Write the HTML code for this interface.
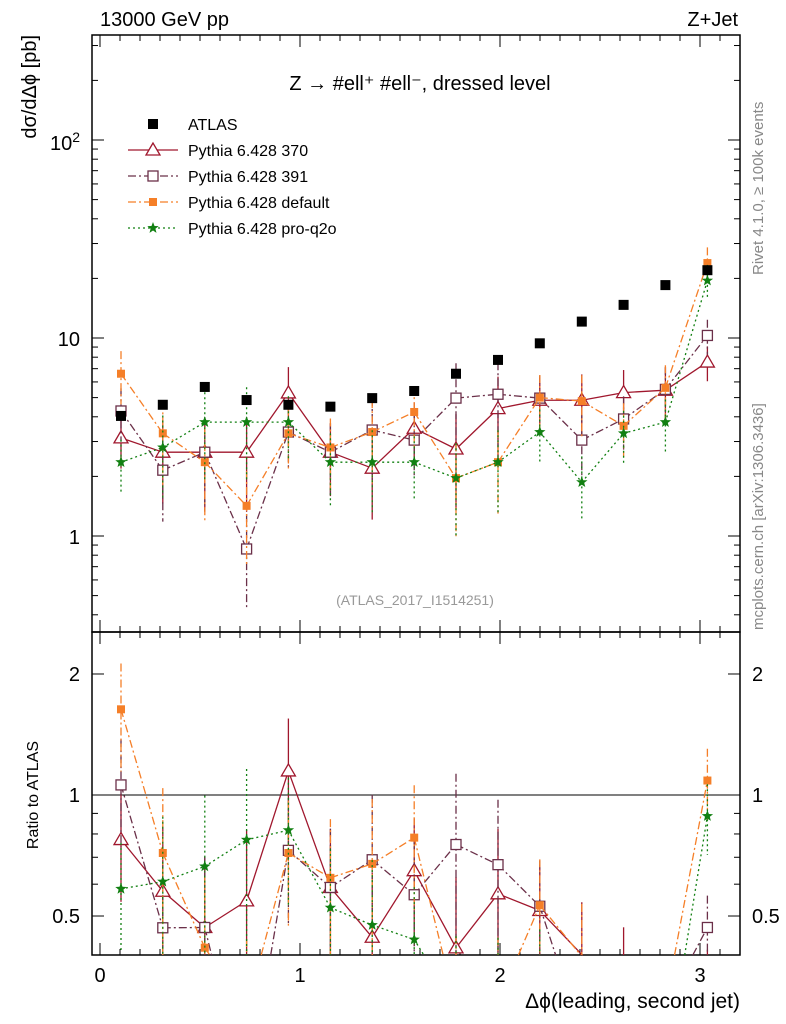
<!DOCTYPE html>
<html><head><meta charset="utf-8"><style>
html,body{margin:0;padding:0;background:#fff;width:786px;height:1024px;overflow:hidden;}
svg{display:block;font-family:"Liberation Sans",sans-serif;overflow:hidden;}
</style></head><body>
<svg id="chart" width="786" height="1024" xmlns="http://www.w3.org/2000/svg"></svg>
<script>
const xCenters=[0.105,0.314,0.524,0.733,0.942,1.152,1.361,1.571,1.780,1.990,2.199,2.409,2.618,2.827,3.037];
const atlasVals=[4.04,4.6,5.66,4.86,4.6,4.5,4.97,5.4,6.6,7.75,9.4,12.1,14.7,18.5,22];
const p370Vals=[3.13,2.65,2.65,2.65,5.28,2.65,2.2,3.5,2.75,4.4,4.85,4.85,5.3,5.45,7.56];
const p391Vals=[4.28,2.15,2.65,0.86,3.35,2.65,3.43,3.05,4.97,5.2,4.97,3.05,3.9,5.5,10.3];
const pDefVals=[6.6,3.3,2.36,1.42,3.3,2.8,3.35,4.23,1.96,2.36,5.0,4.8,3.6,5.6,23.9];
const pQ2oVals=[2.36,2.8,3.76,3.76,3.76,2.36,2.36,2.36,1.96,2.36,3.35,1.87,3.3,3.76,19.5];
const relErr=[0.3,0.45,0.5,0.5,0.35,0.4,0.45,0.35,0.5,0.45,0.3,0.35,0.3,0.3,0.2];
const xTicks=[0,1,2,3];
const NS="http://www.w3.org/2000/svg";
const svg=document.getElementById('chart');
const L=92,R=740,T1=35,B1=632,T2=632,B2=955;
const X=v=>100+200*v;
const Y1=v=>536-198*Math.log10(v);
const Y2=v=>795-402*Math.log10(v);
const clampY=(y,t,b)=>Math.min(b,Math.max(t,y));
function el(t,a,p){const e=document.createElementNS(NS,t);for(const k in a)e.setAttribute(k,a[k]);(p||svg).appendChild(e);return e;}
function txt(s,x,y,size,anchor,fill,p){const e=el('text',{x:x,y:y,'font-size':size,'text-anchor':anchor||'start',fill:fill||'#000'},p);e.textContent=s;return e;}
function seg(x1,y1,x2,y2,t,b,attrs,p){
 let a=0,c=1;const dy=y2-y1;
 if(dy===0){if(y1<t||y1>b)return;}
 else{const ta=(t-y1)/dy,tb=(b-y1)/dy;a=Math.max(a,Math.min(ta,tb));c=Math.min(c,Math.max(ta,tb));if(a>=c)return;}
 const o=Object.assign({x1:x1+(x2-x1)*a,y1:y1+dy*a,x2:x1+(x2-x1)*c,y2:y1+dy*c},attrs);el('line',o,p);
}
const f1=el('rect',{x:L,y:T1,width:R-L,height:B1-T1,fill:'none',stroke:'#000','stroke-width':1.5});

const f2=el('rect',{x:L,y:T2,width:R-L,height:B2-T2,fill:'none',stroke:'#000','stroke-width':1.5});

for(let v=0;v<=3.2;v+=0.1){const x=X(v);const major=Math.abs(v-Math.round(v))<1e-6;const l=major?12:6;
 for(const [t,b] of [[T1,B1],[T2,B2]]){el('line',{x1:x,y1:b,x2:x,y2:b-l,stroke:'#000'});el('line',{x1:x,y1:t,x2:x,y2:t+l,stroke:'#000'});}}
xTicks.forEach(v=>{const t=txt(String(v),X(v),982,20,'middle');});
for(let d=-1;d<=2;d++)for(let m=1;m<=9;m++){const v=m*Math.pow(10,d);const y=Y1(v);if(y<T1||y>B1)continue;const l=m==1?12:6;
 el('line',{x1:L,y1:y,x2:L+l,y2:y,stroke:'#000'});el('line',{x1:R,y1:y,x2:R-l,y2:y,stroke:'#000'});}
txt('1',80,544,20,'end');txt('10',80,346,20,'end');
const yl=txt('10',80,150,20,'end');const ys=el('tspan',{dy:-8,'font-size':14},yl);ys.textContent='2';
for(const v of [0.5,0.6,0.7,0.8,0.9,1,2]){const y=Y2(v);const l=(v==0.5||v==1||v==2)?12:6;
 el('line',{x1:L,y1:y,x2:L+l,y2:y,stroke:'#000'});el('line',{x1:R,y1:y,x2:R-l,y2:y,stroke:'#000'});}
for(const v of [0.5,1,2]){txt(String(v),80,Y2(v)+7,20,'end');txt(String(v),752,Y2(v)+7,20,'start');}
el('line',{x1:L,y1:Y2(1),x2:R,y2:Y2(1),stroke:'#000','stroke-width':1});
const t1=txt('13000 GeV pp',100,26,20);
const t2=txt('Z+Jet',738,26,20,'end');
const t3=txt('Z → #ell⁺ #ell⁻, dressed level',420,90,20,'middle');
const yt=txt('dσ/dΔϕ [pb]',0,0,20,'end');yt.setAttribute('transform','translate(36,35) rotate(-90)');
const rt=txt('Ratio to ATLAS',0,0,16,'middle');rt.setAttribute('transform','translate(38,795) rotate(-90)');
const xt=txt('Δϕ(leading, second jet)',740,1008,21,'end');
const rv=txt('Rivet 4.1.0, ≥ 100k events',0,0,15,'start','#888');rv.setAttribute('transform','translate(763,275) rotate(-90)');
const mc=txt('mcplots.cern.ch [arXiv:1306.3436]',0,0,15,'start','#888');mc.setAttribute('transform','translate(763,630) rotate(-90)');
const an=txt('(ATLAS_2017_I1514251)',415,605,14,'middle','#999');
function marker(kind,x,y,color,p){
 if(kind=='sqf')return el('rect',{x:x-5,y:y-5,width:10,height:10,fill:color},p);
 if(kind=='sqo')return el('rect',{x:x-5,y:y-5,width:10,height:10,fill:'#fff',stroke:color,'stroke-width':1.3},p);
 if(kind=='sqs')return el('rect',{x:x-4,y:y-4,width:8,height:8,fill:color},p);
 if(kind=='tri')return el('polygon',{points:`${x},${y-7} ${x-7},${y+5} ${x+7},${y+5}`,fill:'#fff',stroke:color,'stroke-width':1.3},p);
 if(kind=='star'){let pts=[];for(let i=0;i<10;i++){const r=i%2?2.5:6;const a=-Math.PI/2+i*Math.PI/5;pts.push((x+r*Math.cos(a)).toFixed(1)+','+(y+r*Math.sin(a)).toFixed(1));}return el('polygon',{points:pts.join(' '),fill:color},p);}
}
const series=[
 {name:'pythia-370',vals:p370Vals,color:'#a0172d',dash:'',m:'tri',label:'Pythia 6.428 370'},
 {name:'pythia-391',vals:p391Vals,color:'#6b3049',dash:'8,3,2,3',m:'sqo',label:'Pythia 6.428 391'},
 {name:'pythia-default',vals:pDefVals,color:'#f57f28',dash:'8,3,2,3',m:'sqs',label:'Pythia 6.428 default'},
 {name:'pythia-pro-q2o',vals:pQ2oVals,color:'#128012',dash:'2,3',m:'star',label:'Pythia 6.428 pro-q2o'}
];
const g1=el('g',{});const g2=el('g',{});
series.forEach(s=>{
 const ga=el('g',{},g1);
 const gb=el('g',{},g2);
 const st={stroke:s.color,'stroke-dasharray':s.dash,'stroke-width':1.3};
 s.vals.forEach((v,i)=>{const x=X(xCenters[i]);const r=v/atlasVals[i];const e=relErr[i];
  seg(x,Y1(v*(1+e)),x,Y1(Math.max(v*(1-e),0.01)),T1,B1,st,ga);
  seg(x,Y2(r*(1+e)),x,Y2(Math.max(r*(1-e),0.01)),T2,B2,st,gb);
  if(i>0){const x0=X(xCenters[i-1]);const v0=s.vals[i-1];const r0=v0/atlasVals[i-1];
   seg(x0,Y1(v0),x,Y1(v),T1,B1,st,ga);
   seg(x0,Y2(r0),x,Y2(r),T2,B2,st,gb);}
 });
 s.vals.forEach((v,i)=>{const x=X(xCenters[i]);
  const y1=Y1(v);if(y1>=T1&&y1<=B1){const m1=marker(s.m,x,y1,s.color,ga);}
  const y2=Y2(v/atlasVals[i]);if(y2>=T2+4&&y2<=B2-4){const m2=marker(s.m,x,y2,s.color,gb);}});
});
const gA=el('g',{},g1);
atlasVals.forEach((v,i)=>{const m=marker('sqf',X(xCenters[i]),Y1(v),'#000',gA);});
const lg=el('g',{});
const ent=[{m:'sqf',color:'#000',dash:null,label:'ATLAS'}].concat(series);
ent.forEach((s,i)=>{const y=124+26*i;const g=el('g',{},lg);
 if(s.dash!==null&&s.dash!==undefined)el('line',{x1:128,y1:y,x2:178,y2:y,stroke:s.color,'stroke-dasharray':s.dash,'stroke-width':1.3},g);
 marker(s.m,153,y,s.color,g);txt(s.label,188,y+6,16,'start','#000',g);});
</script>
</body></html>
